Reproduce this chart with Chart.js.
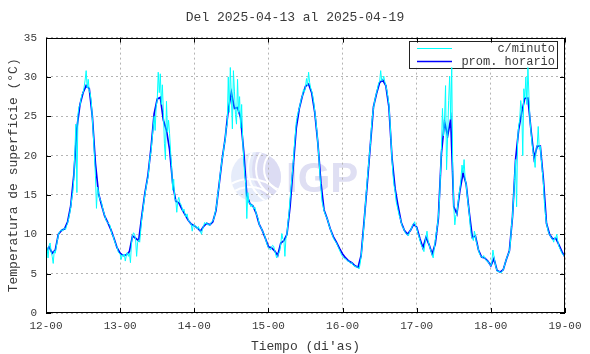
<!DOCTYPE html>
<html>
<head>
<meta charset="utf-8">
<script src="https://cdn.jsdelivr.net/npm/chart.js@4.4.1/dist/chart.umd.min.js"></script>
<style>
  body { margin: 0; background: #fff; }
  canvas { display: block; }
</style>
</head>
<body>
<canvas id="Chart" width="590" height="354"></canvas>
<script>
const tituloGrafico = 'Del 2025-04-13 al 2025-04-19';
const dayLabels = ['12-00', '13-00', '14-00', '15-00', '16-00', '17-00', '18-00', '19-00'];
const seriesLabels = ['c/minuto', 'prom. horario'];

// promedio horario (°C), una hora por valor desde 12-00
const promHorario = [
    7.8, 8.4, 7.6, 8.0, 10.0, 10.5, 10.7, 11.6, 13.6, 17.5, 23.5, 26.5, 28.0, 28.9, 28.5, 25.0, 19.0, 15.2, 13.7, 12.3, 11.5, 10.6, 9.5, 8.3,
    7.6, 7.3, 7.4, 7.8, 9.8, 9.5, 9.2, 12.3, 15.2, 17.5, 21.0, 25.3, 27.2, 27.4, 24.5, 23.2, 20.8, 16.5, 14.2, 14.0, 13.2, 12.5, 11.8, 11.3,
    11.1, 10.8, 10.4, 11.0, 11.4, 11.2, 11.6, 13.0, 16.2, 19.5, 22.2, 25.8, 28.0, 26.0, 26.1, 24.8, 20.5, 15.0, 13.9, 13.6, 12.7, 11.3, 10.5, 9.5,
    8.4, 8.3, 7.9, 7.3, 8.9, 9.2, 10.0, 13.5, 18.5, 23.5, 26.0, 27.6, 28.8, 29.1, 28.0, 25.5, 21.6, 16.5, 13.1, 12.0, 10.7, 9.7, 9.0, 8.2,
    7.5, 7.0, 6.6, 6.4, 6.0, 5.8, 7.3, 11.8, 16.5, 21.4, 26.2, 27.9, 29.3, 29.6, 28.9, 26.2, 19.7, 15.8, 13.5, 11.5, 10.5, 10.0, 10.5, 11.3,
    10.9, 9.5, 8.3, 9.6, 8.7, 7.5, 8.8, 12.0, 20.3, 24.3, 22.5, 24.6, 13.5, 12.6, 15.6, 17.8, 16.4, 12.8, 9.6, 9.8, 8.0, 7.1, 7.0, 6.6,
    6.0, 6.9, 5.4, 5.2, 5.5, 6.8, 7.9, 12.2, 19.5, 23.3, 25.5, 27.3, 27.3, 23.2, 19.7, 21.2, 21.2, 17.0, 11.4, 10.0, 9.4, 9.5, 8.7, 7.8,
    7.1
];

// lecturas c/minuto, tomadas cada 20 minutos
const cMinuto = [
    7.9, 8.3, 7.0, 8.6, 8.9, 7.8, 7.2, 6.3, 7.9, 7.6, 8.4, 9.2, 9.9, 10.3, 10.4, 10.6, 10.4, 10.7, 10.8, 10.6, 11.1, 11.4, 12.0, 12.6,
    13.4, 14.5, 15.3, 17.0, 20.5, 24.0, 15.3, 25.2, 26.2, 26.4, 27.2, 27.8, 28.0, 28.7, 29.6, 30.8, 28.6, 29.7, 28.2, 27.9, 26.8, 24.8, 22.5, 20.0,
    17.5, 13.3, 16.0, 15.4, 14.6, 14.3, 14.0, 13.3, 12.8, 12.4, 11.9, 11.6, 11.5, 11.3, 11.2, 10.6, 10.0, 9.9, 9.4, 9.0, 8.6, 8.4, 7.8, 7.6,

    7.5, 6.8, 7.4, 7.2, 7.5, 6.6, 7.3, 7.7, 7.2, 7.6, 6.4, 8.8, 9.8, 10.2, 10.0, 9.4, 7.2, 9.0, 9.3, 9.0, 10.5, 12.0, 13.0, 14.0,
    15.0, 15.8, 16.6, 17.2, 18.4, 19.8, 20.5, 22.0, 23.5, 25.0, 23.2, 26.3, 27.0, 30.6, 28.0, 30.4, 26.5, 29.0, 25.5, 21.5, 19.5, 26.9, 23.0, 24.5,
    22.8, 20.5, 18.6, 15.6, 17.0, 14.5, 14.4, 12.8, 14.3, 14.7, 14.0, 13.8, 13.4, 12.9, 13.2, 12.5, 12.2, 12.6, 11.9, 11.6, 11.5, 11.3, 10.4, 11.2,

    11.2, 10.9, 11.0, 10.7, 11.0, 10.6, 10.4, 10.0, 10.7, 11.0, 11.5, 11.3, 11.5, 11.2, 11.3, 11.1, 11.4, 11.6, 11.7, 12.0, 12.6, 13.2, 14.0, 15.3,
    16.0, 17.5, 18.5, 19.5, 20.2, 21.3, 22.0, 23.5, 24.0, 30.0, 25.5, 31.2, 27.5, 23.4, 30.8, 28.2, 25.2, 24.0, 29.7, 25.5, 27.5, 23.5, 26.5, 22.0,
    19.5, 17.5, 16.5, 12.0, 15.3, 14.0, 14.0, 13.5, 13.8, 13.6, 13.2, 13.4, 12.7, 12.3, 12.0, 11.3, 11.0, 10.8, 10.5, 10.2, 10.0, 9.5, 9.0, 8.6,

    8.3, 8.2, 8.0, 8.4, 8.6, 8.5, 8.0, 7.5, 7.0, 7.3, 7.6, 7.9, 8.8, 10.1, 9.4, 9.3, 7.2, 9.5, 10.0, 11.5, 12.8, 14.5, 16.0, 17.5,
    19.0, 21.0, 22.5, 24.2, 25.0, 25.6, 26.0, 26.7, 27.3, 27.5, 28.4, 28.1, 28.8, 29.8, 28.9, 30.6, 29.3, 28.6, 28.2, 27.6, 26.8, 25.6, 24.5, 23.2,
    21.6, 19.8, 17.6, 15.8, 14.2, 13.6, 13.0, 12.6, 12.3, 12.0, 11.6, 11.1, 10.7, 10.3, 9.9, 9.6, 9.3, 9.1, 8.9, 8.6, 8.3, 8.0, 7.7, 7.4,

    7.2, 7.0, 6.9, 6.9, 6.7, 6.6, 6.6, 6.4, 6.3, 6.4, 6.1, 6.0, 6.0, 5.8, 5.9, 5.8, 5.6, 6.2, 7.2, 8.5, 10.0, 11.5, 13.5, 15.3,
    17.0, 18.5, 20.0, 21.4, 23.5, 25.0, 26.0, 26.8, 27.5, 28.0, 28.6, 29.2, 29.4, 30.8, 29.5, 29.6, 30.1, 29.4, 28.9, 28.3, 27.5, 26.5, 24.5, 22.0,
    19.5, 17.5, 16.2, 15.5, 14.2, 13.6, 13.0, 12.4, 12.0, 11.5, 11.0, 10.8, 10.5, 10.2, 10.0, 10.0, 9.8, 10.3, 10.5, 10.8, 11.2, 11.3, 11.6, 11.0,

    10.8, 10.2, 9.8, 9.3, 8.8, 8.5, 8.2, 7.8, 8.8, 9.6, 10.4, 9.2, 8.7, 8.2, 7.8, 7.4, 7.0, 8.2, 9.2, 10.2, 11.0, 12.2, 14.0, 17.5,
    20.8, 26.0, 22.5, 24.5, 28.9, 18.2, 22.3, 27.0, 30.1, 24.6, 31.2, 18.0, 13.5, 11.2, 12.4, 12.6, 13.8, 15.0, 15.8, 17.2, 18.8, 17.8, 19.5, 17.0,
    16.4, 15.0, 13.8, 12.7, 11.0, 9.8, 9.6, 9.2, 10.4, 9.8, 8.9, 8.6, 8.0, 7.5, 7.3, 7.1, 7.0, 7.3, 7.0, 6.8, 6.6, 6.6, 6.3, 6.2,

    6.0, 6.5, 8.0, 7.2, 6.4, 5.8, 5.4, 5.2, 5.3, 5.2, 5.1, 5.3, 5.5, 5.9, 6.4, 6.8, 7.2, 7.5, 7.8, 9.0, 11.0, 12.2, 14.5, 17.0,
    19.5, 13.5, 22.0, 23.8, 24.5, 27.0, 25.8, 20.0, 28.5, 27.3, 30.0, 26.5, 31.2, 27.6, 24.5, 23.0, 21.5, 20.5, 19.7, 18.5, 21.0, 21.2, 23.7, 20.8,
    21.2, 19.5, 18.0, 16.5, 14.0, 12.5, 11.4, 10.8, 10.2, 10.0, 9.7, 9.5, 9.4, 9.0, 9.6, 9.5, 10.0, 9.1, 8.5, 8.2, 7.9, 7.6, 7.4, 7.3,
    7.2
];

const monoFont = '"Liberation Mono", "DejaVu Sans Mono", monospace';
const textColor = '#3a3a3a';

// hora -> x
const puntosHora = promHorario.map((v, i) => ({ x: i, y: v }));
const puntosMinuto = cMinuto.map((v, i) => ({ x: i / 3, y: v }));

// logo, marco con ticks hacia adentro y leyenda (estilo gnuplot)
const gnuplotLook = {
    id: 'gnuplotLook',
    beforeDraw(chart) {
        const ctx = chart.ctx;
        ctx.save();
        ctx.fillStyle = '#fff';
        ctx.fillRect(0, 0, chart.width, chart.height);
        // marca de agua IGP
        const cx = 256, cy = 177, r = 25;
        ctx.beginPath();
        ctx.arc(cx, cy, r, 0, Math.PI * 2);
        ctx.fillStyle = '#e6ecfa';
        ctx.fill();
        ctx.save();
        ctx.clip();
        ctx.fillStyle = '#dcdcf3';
        ctx.beginPath();
        ctx.arc(cx + 30, cy - 8, 34, 0, Math.PI * 2);
        ctx.fill();
        ctx.strokeStyle = '#fff';
        ctx.lineWidth = 2;
        [22, 30, 38].forEach(rr => {
            ctx.beginPath();
            ctx.arc(cx + 30, cy - 8, rr, 0, Math.PI * 2);
            ctx.stroke();
        });
        [30, 38].forEach(rr => {
            ctx.beginPath();
            ctx.arc(cx - 6, cy + 40, rr, 0, Math.PI * 2);
            ctx.stroke();
        });
        ctx.restore();
        ctx.fillStyle = '#dfdff3';
        ctx.font = 'bold 42px "Liberation Sans", Arial, sans-serif';
        ctx.textAlign = 'left';
        ctx.textBaseline = 'alphabetic';
        ctx.fillText('IGP', 286, 192);
        ctx.restore();
    },
    beforeDatasetsDraw(chart) {
        const ctx = chart.ctx;
        const { right, top } = chart.chartArea;
        const bx = right - 156, by = top + 3, bw = 148, bh = 27;
        ctx.save();
        ctx.fillStyle = '#fff';
        ctx.fillRect(bx, by, bw, bh);
        ctx.strokeStyle = '#222';
        ctx.lineWidth = 1;
        ctx.strokeRect(Math.round(bx) + 0.5, Math.round(by) + 0.5, bw, bh);
        ctx.font = '12px ' + monoFont;
        ctx.textAlign = 'right';
        ctx.textBaseline = 'middle';
        chart.data.datasets.forEach((ds, i) => {
            const y = Math.round(by + 7 + i * 13) + 0.5;
            ctx.strokeStyle = ds.borderColor;
            ctx.lineWidth = ds.borderWidth;
            ctx.beginPath();
            ctx.moveTo(bx + 8, y);
            ctx.lineTo(bx + 43, y);
            ctx.stroke();
            ctx.fillStyle = textColor;
            ctx.fillText(ds.label, bx + bw - 2, y);
        });
        ctx.restore();
    },
    afterDatasetsDraw(chart) {
        const ctx = chart.ctx;
        const { left, right, top, bottom } = chart.chartArea;
        const xs = chart.scales.x, ys = chart.scales.y;
        ctx.save();
        ctx.strokeStyle = '#000';
        ctx.lineWidth = 1;
        ctx.beginPath();
        xs.ticks.forEach(t => {
            const px = Math.round(xs.getPixelForValue(t.value)) + 0.5;
            ctx.moveTo(px, bottom); ctx.lineTo(px, bottom - 5);
            ctx.moveTo(px, top); ctx.lineTo(px, top + 5);
        });
        ys.ticks.forEach(t => {
            const py = Math.round(ys.getPixelForValue(t.value)) + 0.5;
            ctx.moveTo(left, py); ctx.lineTo(left + 5, py);
            ctx.moveTo(right, py); ctx.lineTo(right - 5, py);
        });
        ctx.stroke();
        ctx.strokeRect(Math.round(left) + 0.5, Math.round(top) + 0.5, Math.round(right - left) - 1, Math.round(bottom - top) - 1);
        ctx.restore();
    }
};

const gridStyle = { color: '#b4b4b4', lineWidth: 1, drawTicks: false };

const chartElement = document.getElementById('Chart').getContext('2d');
const chart = new Chart(chartElement, {
    type: 'line',
    data: {
        datasets: [
            {
                label: seriesLabels[0],
                data: puntosMinuto,
                borderColor: '#00ffff',
                borderWidth: 1,
                pointRadius: 0,
                tension: 0
            },
            {
                label: seriesLabels[1],
                data: puntosHora,
                borderColor: '#0000ff',
                borderWidth: 1.7,
                pointRadius: 0,
                tension: 0
            }
        ]
    },
    options: {
        responsive: false,
        animation: false,
        devicePixelRatio: 1,
        layout: { padding: 0 },
        plugins: {
            legend: { display: false },
            tooltip: { enabled: false },
            title: {
                display: true,
                text: tituloGrafico,
                color: textColor,
                font: { family: monoFont, size: 13, weight: 'normal' },
                padding: { top: 10, bottom: 12 }
            }
        },
        scales: {
            x: {
                type: 'linear',
                min: 0,
                max: 168,
                afterFit(s) { s.height = 41; },
                ticks: {
                    stepSize: 24,
                    autoSkip: false,
                    maxRotation: 0,
                    padding: 6,
                    color: textColor,
                    font: { family: monoFont, size: 11 },
                    callback: v => dayLabels[v / 24]
                },
                grid: gridStyle,
                border: { display: false, dash: [2, 3] },
                title: {
                    display: true,
                    text: 'Tiempo (di\'as)',
                    color: textColor,
                    font: { family: monoFont, size: 13 },
                    padding: { top: 0, bottom: 0 }
                }
            },
            y: {
                min: 0,
                max: 35,
                afterFit(s) { s.width = 46; },
                ticks: {
                    stepSize: 5,
                    padding: 9,
                    color: textColor,
                    font: { family: monoFont, size: 11 }
                },
                grid: gridStyle,
                border: { display: false, dash: [2, 3] },
                title: {
                    display: true,
                    text: 'Temperatura de superficie (°C)',
                    color: textColor,
                    font: { family: monoFont, size: 13 },
                    padding: { top: 6, bottom: 0 }
                }
            },
            // margen derecho vacío
            yDer: {
                position: 'right',
                min: 0,
                max: 35,
                afterFit(s) { s.width = 25; },
                ticks: { display: false },
                grid: { display: false, drawTicks: false },
                border: { display: false }
            }
        }
    },
    plugins: [gnuplotLook]
});
</script>
</body>
</html>
